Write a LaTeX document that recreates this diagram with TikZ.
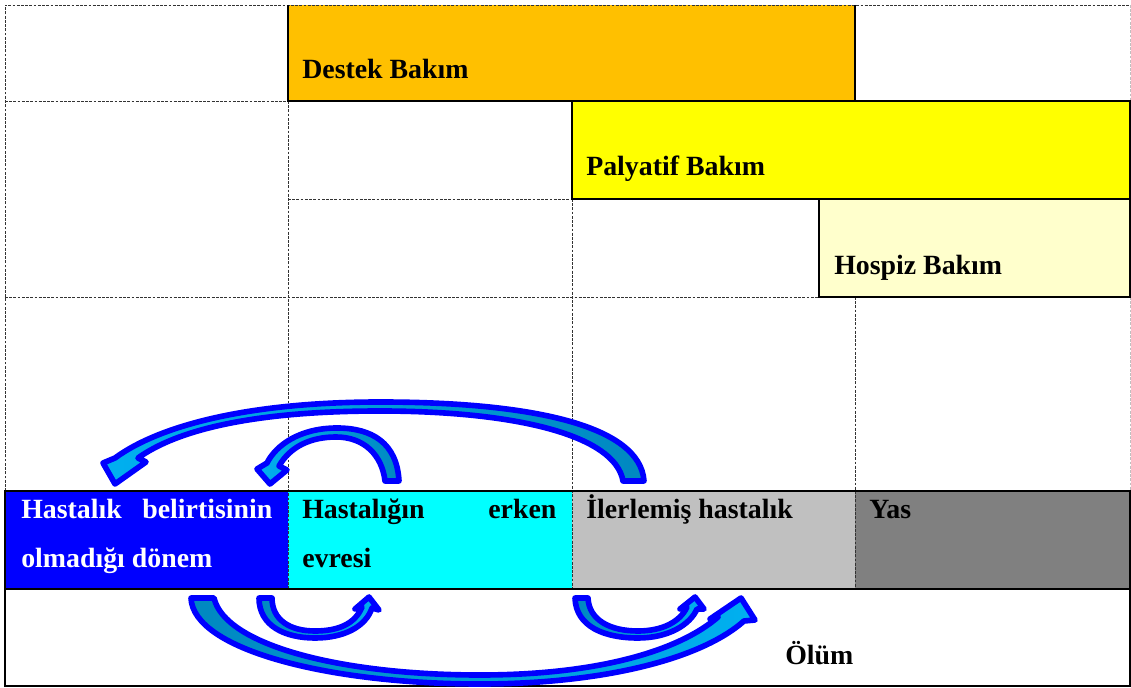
\documentclass[tikz,border=0pt]{standalone}
\usepackage{fontspec}
\setmainfont{Liberation Serif}

\definecolor{destekfill}{HTML}{FFC000}
\definecolor{palyatiffill}{HTML}{FFFF00}
\definecolor{hospizfill}{HTML}{FFFFCC}
\definecolor{belirtifill}{HTML}{0000FF}
\definecolor{erkenfill}{HTML}{00FFFF}
\definecolor{ilerifill}{HTML}{C0C0C0}
\definecolor{yasfill}{HTML}{808080}
\definecolor{arrdark}{HTML}{0088C0}
\definecolor{arrlight}{HTML}{00B0F0}

\tikzset{
	gridline/.style={dash pattern=on 2pt off 1pt, line width=0.6pt, black!80},
	boxline/.style={line width=1.3pt, black},
	bandline/.style={line width=1.6pt, black},
	lbl/.style={anchor=base west, inner sep=0pt, font=\fontsize{19.8}{24}\selectfont\bfseries},
	arrowshape/.style={draw=blue, line width=4pt, line join=round}
}

\begin{document}
\begin{tikzpicture}[x=0.025cm, y=-0.025cm]
	\useasboundingbox (0,0) rectangle (1131,688);
	% band cells and care boxes
	\fill[belirtifill] (5,491) rectangle (288,589);
	\fill[erkenfill] (288,491) rectangle (572,589);
	\fill[ilerifill] (572,491) rectangle (855,589);
	\fill[yasfill] (855,491) rectangle (1130,589);
	\fill[destekfill] (288,5) rectangle (855,101);
	\fill[palyatiffill] (572,101) rectangle (1130,199);
	\fill[hospizfill] (819,199) rectangle (1130,297);
	% dashed grid
	\draw[gridline] (5,491) -- (5,5) -- (1130,5);
	\draw[gridline, black!25] (1130,5) -- (1130,101);
	\draw[gridline, black!25] (1130,297) -- (1130,491);
	\draw[gridline] (5,101) -- (288,101);
	\draw[gridline] (288,199) -- (572,199);
	\draw[gridline] (5,297) -- (819,297);
	\draw[gridline] (288,101) -- (288,589);
	\draw[gridline] (572,199) -- (572,589);
	\draw[gridline] (855,297) -- (855,589);
	% solid borders
	\draw[boxline] (288,5) -- (288,101) -- (1130,101) -- (1130,297) -- (819,297) -- (819,199) -- (572,199) -- (572,101);
	\draw[boxline] (855,5) -- (855,101);
	\draw[boxline] (819,199) -- (1130,199);
	\draw[bandline] (5,491) rectangle (1130,589);
	\draw[boxline] (5,589) -- (5,686) -- (1130,686) -- (1130,589);
	% labels
	\node[lbl] (destek) at (302,79) {Destek Bakım};
	\node[lbl] (palyatif) at (586,176) {Palyatif Bakım};
	\node[lbl] (hospiz) at (834,275) {Hospiz Bakım};
	\node[lbl, text=white] (belirti) at (21,518) {\makebox[6.275cm][s]{Hastalık belirtisinin}};
	\node[lbl, text=white] (donem) at (21,567) {olmadığı dönem};
	\node[lbl] (erken) at (302,518) {\makebox[6.35cm][s]{Hastalığın erken}};
	\node[lbl] (evre) at (302,567) {evresi};
	\node[lbl] (ileri) at (586,518) {İlerlemiş hastalık};
	\node[lbl] (yas) at (869,518) {Yas};
	\node[lbl] (olum) at (785,664) {Ölüm};
	% curved arrows above the band
	\draw[arrowshape, left color=arrlight, right color=arrdark] (644,481) .. controls (640,425) and (530,402) .. (380,402) .. controls (250,402) and (160,425) .. (115,458) -- (103,463) -- (115,484) -- (146,462) -- (138,458) .. controls (180,428) and (260,411) .. (380,411) .. controls (515,411) and (615,435) .. (623,481) -- cycle;
	\draw[arrowshape, left color=arrlight, right color=arrdark] (399,481) .. controls (397,443) and (372,428) .. (337,428) .. controls (300,428) and (276,445) .. (267,463) -- (257,469) -- (270,484) -- (287,470) -- (279,466) .. controls (290,447) and (310,437) .. (336,437) .. controls (364,437) and (382,455) .. (385,481) -- cycle;
	% curved arrows below the band
	\draw[arrowshape, left color=arrdark, right color=arrlight] (259,598) .. controls (259,626) and (285,638) .. (315,638) .. controls (345,638) and (366,626) .. (372,608) -- (379,610) -- (369,597) -- (355,609) -- (362,607) .. controls (355,624) and (338,631) .. (315,631) .. controls (290,631) and (272,620) .. (272,598) -- cycle;
	\draw[arrowshape, left color=arrdark, right color=arrlight] (191,598) .. controls (193,650) and (330,684) .. (480,684) .. controls (600,684) and (700,660) .. (744,621) -- (755,620) -- (741,598) -- (710,619) -- (718,617) .. controls (680,650) and (600,675) .. (480,675) .. controls (340,675) and (225,645) .. (214,598) -- cycle;
	\draw[arrowshape, left color=arrdark, right color=arrlight] (575,598) .. controls (576,627) and (605,638) .. (638,638) .. controls (668,638) and (690,625) .. (697,609) -- (704,609) -- (695,597) -- (680,609) -- (687,607) .. controls (680,622) and (662,631) .. (638,631) .. controls (610,631) and (589,620) .. (588,598) -- cycle;
\end{tikzpicture}
\end{document}
